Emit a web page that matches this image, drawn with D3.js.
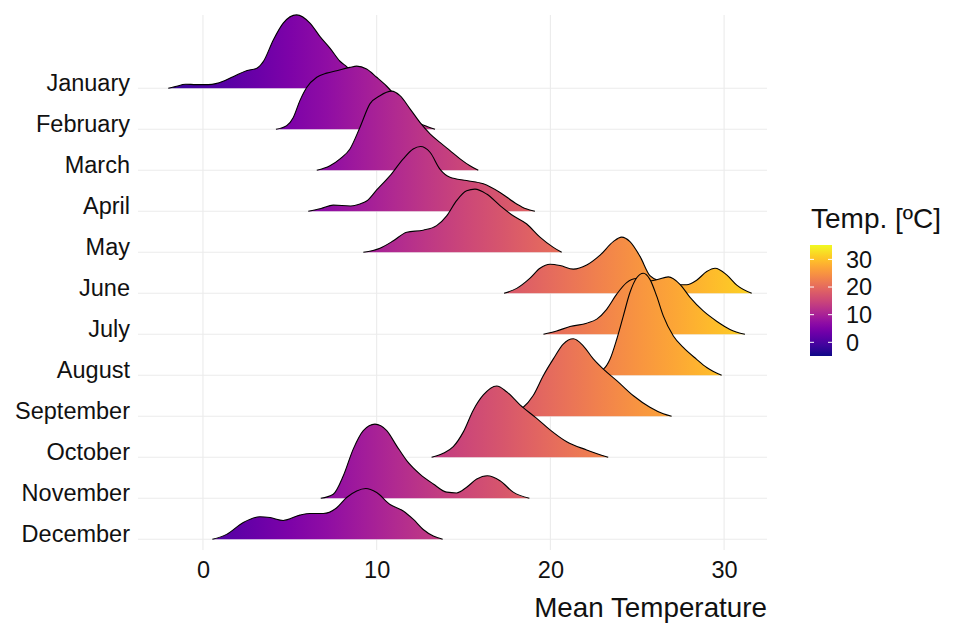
<!DOCTYPE html>
<html>
<head>
<meta charset="utf-8">
<script src="https://cdn.jsdelivr.net/npm/d3@7"></script>
<style>
  body { margin: 0; background: #fff; }
  text { font-family: "Liberation Sans", Arial, sans-serif; fill: #111; }
</style>
</head>
<body>
<svg id="chart" width="953" height="628"></svg>
<script>

var months = ["January", "February", "March", "April", "May", "June",
              "July", "August", "September", "October", "November", "December"];

// [mean temperature, ridge height in rows]
var january = [[-2.0,0],[-1.6,0.04],[-1.0,0.10],[-0.4,0.09],[0.3,0.09],[0.8,0.12],[1.73,0.28],[2.5,0.43],
               [3.1,0.49],[3.47,0.65],[4.05,1.18],[4.62,1.59],[5.39,1.79],[6.16,1.59],[6.74,1.26],[7.31,0.98],
               [7.89,0.66],[8.27,0.53],[9.0,0.25],[9.8,0.08],[10.4,0]];
var february = [[4.2,0],[4.82,0.09],[5.2,0.29],[5.58,0.70],[5.97,1.02],[6.55,1.27],[7.12,1.37],[7.7,1.43],
                [8.46,1.51],[8.85,1.54],[9.42,1.47],[10.0,1.27],[10.58,1.05],[11.2,0.75],[11.8,0.42],
                [12.4,0.16],[12.9,0.07],[13.36,0]];
var march = [[6.55,0],[7.31,0.11],[7.89,0.28],[8.46,0.52],[9.04,1.05],[9.61,1.62],[10.19,1.82],[10.86,1.93],
             [11.34,1.82],[11.92,1.50],[12.49,1.17],[13.07,0.89],[13.64,0.68],[14.22,0.48],[14.8,0.28],
             [15.37,0.11],[15.85,0]];
var april = [[6.06,0],[6.8,0.07],[7.5,0.15],[8.5,0.13],[9.04,0.18],[9.42,0.25],[10.0,0.52],[10.77,0.87],
             [11.53,1.28],[12.1,1.52],[12.53,1.58],[13.07,1.44],[13.64,1.03],[14.22,0.83],[15.18,0.75],
             [16.14,0.67],[17.1,0.46],[18.06,0.18],[18.6,0.06],[19.11,0]];
var may = [[9.23,0],[10.19,0.10],[10.96,0.28],[11.73,0.49],[12.68,0.54],[13.45,0.65],[14.03,0.89],[14.6,1.26],
           [15.18,1.50],[15.66,1.54],[16.33,1.42],[17.1,1.14],[17.86,0.89],[18.64,0.69],[19.4,0.37],
           [20.17,0.12],[20.65,0]];
var june = [[17.33,0],[18.06,0.12],[18.83,0.37],[19.4,0.61],[19.98,0.71],[20.55,0.68],[21.32,0.59],[22.09,0.69],
            [22.86,0.93],[23.62,1.26],[24.1,1.37],[24.58,1.26],[25.16,0.90],[25.73,0.43],[26.4,0.28],
            [27.2,0.21],[27.85,0.21],[28.42,0.32],[29.0,0.53],[29.48,0.61],[30.15,0.45],[30.73,0.20],[31.59,0]];
var july = [[19.6,0],[20.36,0.08],[21.13,0.19],[22.09,0.27],[22.67,0.37],[23.24,0.61],[23.82,0.98],[24.39,1.26],
            [24.97,1.36],[25.6,1.29],[26.12,1.33],[26.79,1.40],[27.46,1.22],[28.04,0.90],[28.8,0.57],
            [29.57,0.32],[30.34,0.12],[31.2,0]];
var august = [[21.5,0],[22.3,0.04],[23.05,0.15],[23.43,0.39],[23.82,0.88],[24.2,1.45],[24.58,2.02],[24.97,2.38],
              [25.35,2.49],[25.73,2.34],[26.12,1.93],[26.5,1.45],[27.08,0.96],[27.65,0.68],[28.42,0.39],
              [29.0,0.19],[29.86,0]];
var september = [[17.0,0],[17.8,0.10],[18.44,0.22],[19.0,0.50],[19.59,0.99],[20.17,1.40],[20.74,1.76],[21.32,1.89],
                 [21.89,1.72],[22.47,1.40],[23.05,1.15],[23.82,0.87],[24.78,0.50],[25.73,0.22],[26.5,0.06],[26.98,0]];
var october = [[13.16,0],[13.83,0.10],[14.41,0.26],[14.99,0.62],[15.56,1.15],[16.14,1.52],[16.91,1.74],[17.48,1.60],
               [18.25,1.28],[19.21,0.95],[19.98,0.67],[20.94,0.38],[22.09,0.18],[23.33,0]];
var november = [[6.78,0],[7.5,0.10],[8.08,0.55],[8.65,1.20],[9.23,1.65],[9.9,1.81],[10.58,1.65],[11.15,1.28],
                [11.73,0.92],[12.49,0.59],[13.26,0.35],[14.03,0.15],[14.6,0.13],[15.18,0.27],[15.76,0.47],
                [16.37,0.55],[17.1,0.43],[17.86,0.15],[18.79,0]];
var december = [[0.54,0],[1.36,0.12],[2.32,0.41],[3.28,0.55],[3.86,0.53],[4.62,0.46],[5.58,0.59],[6.16,0.63],
                [6.93,0.63],[7.7,0.77],[8.27,1.02],[8.85,1.18],[9.37,1.24],[10.0,1.14],[10.77,0.85],[11.53,0.69],
                [12.1,0.49],[12.68,0.24],[13.26,0.08],[13.8,0]];

var tempTicks = [0, 10, 20, 30];
var tempDomain = [-3.74, 32.47];
var fillDomain = [-4.95, 35.2];   // limits of the colour scale
var legendTicks = [0, 10, 20, 30];

var ridges = [january, february, march, april, may, june,
              july, august, september, october, november, december];

var svg = d3.select("#chart");

var panel = {left: 138, right: 767, top: 15, bottom: 550};

var x = d3.scaleLinear().domain(tempDomain).range([panel.left, panel.right]);
var y = d3.scalePoint().domain(months).range([88.3, 539.3]);
var h = d3.scaleLinear().domain([0, 1]).range([0, y.step()]);

// gradients
var defs = svg.append("defs");
var stops = d3.range(0, 1.0001, 0.05);

var fillGrad = defs.append("linearGradient")
    .attr("id", "tempFill")
    .attr("gradientUnits", "userSpaceOnUse")
    .attr("x1", x(fillDomain[0])).attr("x2", x(fillDomain[1]))
    .attr("y1", 0).attr("y2", 0);
fillGrad.selectAll("stop").data(stops).enter().append("stop")
    .attr("offset", function(t) { return t; })
    .attr("stop-color", function(t) { return d3.interpolatePlasma(t); });

// grid
var grid = svg.append("g").attr("class", "grid")
    .attr("stroke", "#ebebeb").attr("stroke-width", 1.1);

grid.selectAll("line.v").data(tempTicks).enter().append("line")
    .attr("class", "v")
    .attr("x1", function(d) { return x(d); }).attr("x2", function(d) { return x(d); })
    .attr("y1", panel.top).attr("y2", panel.bottom);

grid.selectAll("line.h").data(months).enter().append("line")
    .attr("class", "h")
    .attr("x1", panel.left).attr("x2", panel.right)
    .attr("y1", function(d) { return y(d); }).attr("y2", function(d) { return y(d); });

// ridges, top row first so lower rows sit over it
var area = d3.area()
    .x(function(d) { return x(d[0]); })
    .curve(d3.curveMonotoneX);
var line = d3.line()
    .x(function(d) { return x(d[0]); })
    .curve(d3.curveMonotoneX);

var gRidges = svg.selectAll("g.ridge")
    .data(ridges).enter().append("g")
    .attr("class", "ridge");

gRidges.append("path")
    .attr("fill", "url(#tempFill)")
    .attr("d", function(pts, i) {
        var base = y(months[i]);
        return area.y0(base).y1(function(d) { return base - h(d[1]); })(pts);
    });

gRidges.append("path")
    .attr("fill", "none")
    .attr("stroke", "#000")
    .attr("stroke-width", 1.1)
    .attr("d", function(pts, i) {
        var base = y(months[i]);
        return line.y(function(d) { return base - h(d[1]); })(pts);
    });

// axes
var xAxis = svg.append("g")
    .attr("transform", "translate(0," + panel.bottom + ")")
    .call(d3.axisBottom(x).tickValues(tempTicks).tickSize(0).tickPadding(11).tickFormat(d3.format("d")));
xAxis.select(".domain").remove();
xAxis.selectAll("text")
    .style("font-size", "23.5px")
    .style("font-family", "'Liberation Sans', Arial, sans-serif")
    .attr("fill", "#111");

var yAxis = svg.append("g")
    .attr("transform", "translate(" + panel.left + ",0)")
    .call(d3.axisLeft(y).tickSize(0).tickPadding(8));
yAxis.select(".domain").remove();
yAxis.selectAll("text")
    .attr("dy", 2)
    .style("font-size", "23.5px")
    .style("font-family", "'Liberation Sans', Arial, sans-serif")
    .attr("fill", "#111");

svg.append("text")
    .attr("x", panel.right)
    .attr("y", 616.5)
    .attr("text-anchor", "end")
    .style("font-size", "27.8px")
    .text("Mean Temperature");

// legend
var legend = {x: 810, w: 22, top: 245, bottom: 356};
var ly = d3.scaleLinear().domain(fillDomain).range([legend.bottom, legend.top]);

var legGrad = defs.append("linearGradient")
    .attr("id", "legendFill")
    .attr("gradientUnits", "userSpaceOnUse")
    .attr("x1", 0).attr("x2", 0)
    .attr("y1", legend.bottom).attr("y2", legend.top);
legGrad.selectAll("stop").data(stops).enter().append("stop")
    .attr("offset", function(t) { return t; })
    .attr("stop-color", function(t) { return d3.interpolatePlasma(t); });

svg.append("text")
    .attr("x", 811)
    .attr("y", 228)
    .style("font-size", "28px")
    .text("Temp. [ºC]");

svg.append("rect")
    .attr("x", legend.x).attr("y", legend.top)
    .attr("width", legend.w).attr("height", legend.bottom - legend.top)
    .attr("fill", "url(#legendFill)");

var lt = svg.selectAll("g.ltick").data(legendTicks).enter().append("g")
    .attr("class", "ltick")
    .attr("transform", function(d) { return "translate(0," + ly(d) + ")"; });
lt.append("line")
    .attr("x1", legend.x).attr("x2", legend.x + 4)
    .attr("stroke", "#fff").attr("stroke-width", 1);
lt.append("line")
    .attr("x1", legend.x + legend.w - 4).attr("x2", legend.x + legend.w)
    .attr("stroke", "#fff").attr("stroke-width", 1);
lt.append("text")
    .attr("x", 846)
    .attr("dy", "0.36em")
    .style("font-size", "23.5px")
    .text(function(d) { return d; });

</script>
</body>
</html>
